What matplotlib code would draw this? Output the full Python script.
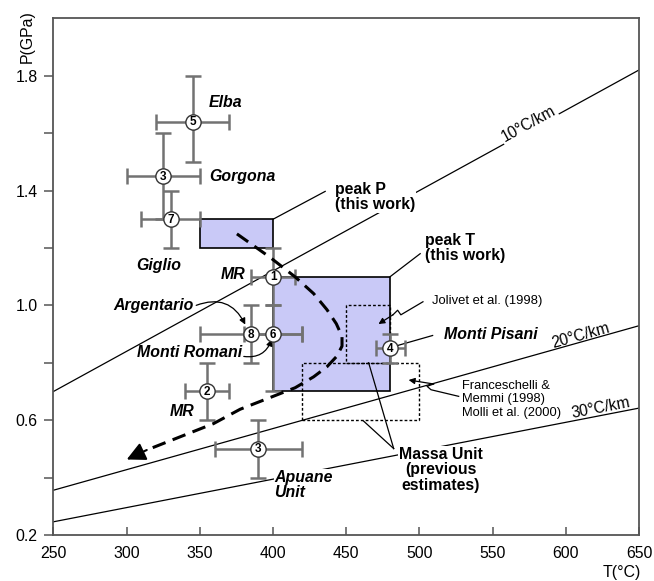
import numpy as np
import matplotlib.pyplot as plt

plt.rcParams['font.family'] = ['Liberation Sans', 'DejaVu Sans']

# geotherms (end points at T = 250 and 650 C)
geo_T = [250, 650]
geo10 = [0.70, 1.82]
geo20 = [0.356, 0.929]
geo30 = [0.246, 0.642]

# peak estimates of this work: (Tmin, Tmax, Pmin, Pmax)
peakP_box = (350, 400, 1.20, 1.30)
peakT_box = (400, 480, 0.70, 1.10)
# previous estimates for the Massa Unit
jolivet_box = (450, 480, 0.80, 1.00)
frances_box = (420, 500, 0.60, 0.80)

# literature P-T estimates with error ranges
pt_num = ['5', '3', '7', '1', '8', '6', '2', '3', '4']
pt_T = [345, 325, 330, 400, 385, 400, 355, 390, 480]
pt_P = [1.64, 1.45, 1.30, 1.10, 0.90, 0.90, 0.70, 0.50, 0.85]
pt_Tlo = [320, 300, 310, 385, 350, 380, 340, 360, 470]
pt_Thi = [370, 350, 350, 415, 420, 420, 370, 420, 490]
pt_Plo = [1.50, 1.30, 1.20, 1.00, 0.80, 0.70, 0.60, 0.40, 0.80]
pt_Phi = [1.80, 1.60, 1.40, 1.20, 1.00, 1.00, 0.80, 0.60, 0.90]

# P-T path (dashed)
path_T = [375.3, 398.0, 415.1, 427.7, 436.8, 443.2, 447.1, 447.1, 443.6, 436.8,
          427.7, 415.1, 377.5, 359.3, 313.7]
path_P = [1.249, 1.167, 1.099, 1.041, 0.985, 0.936, 0.892, 0.858, 0.823, 0.786,
          0.751, 0.713, 0.638, 0.588, 0.496]
path_tip = (300, 0.463)

fig = plt.figure(figsize=(6.54, 5.81), dpi=100)
ax = fig.add_axes([0.0818, 0.0792, 0.8953, 0.8893])
ax.set_xlim(250, 650)
ax.set_ylim(0.2, 2.0)

spine_col = '#555555'
for s in ax.spines.values():
    s.set_color(spine_col)
    s.set_linewidth(1.3)

ax.set_xticks(np.arange(250, 651, 50))
ax.set_xticks([300, 400, 500, 600], minor=True)
ax.tick_params(axis='x', which='major', direction='in', length=6, width=1.1,
               color=spine_col, labelsize=11.4, pad=8)
ax.tick_params(axis='x', which='minor', direction='in', length=9, width=1.1,
               color=spine_col)
ax.set_yticks([0.2, 0.6, 1.0, 1.4, 1.8])
ax.set_yticks([0.4, 0.8, 1.2, 1.6], minor=True)
ax.yaxis.set_major_formatter(plt.FormatStrFormatter('%.1f'))
ax.tick_params(axis='y', which='both', direction='out', length=6.5, width=1.1,
               color=spine_col, labelsize=11.4, pad=5)

fig.text(27 / 654, 1 - 37 / 581, 'P(GPa)', rotation=90, ha='center', va='center',
         fontsize=11.4)
fig.text(622 / 654, 1 - 573 / 581, 'T(°C)', ha='center', va='center', fontsize=11.4)

# geotherms
for g in (geo10, geo20, geo30):
    ax.plot(geo_T, g, color='black', lw=0.9, zorder=1)


def screen_angle(x0, y0, x1, y1):
    p = ax.transData.transform([(x0, y0), (x1, y1)])
    return np.degrees(np.arctan2(p[1, 1] - p[0, 1], p[1, 0] - p[0, 0]))


ax.text(574.6, 1.632, '10°C/km', fontsize=11.2, ha='center', va='center',
        rotation=screen_angle(geo_T[0], geo10[0], geo_T[1], geo10[1]),
        rotation_mode='anchor',
        bbox=dict(facecolor='white', edgecolor='none', pad=1.0))
ax.text(610, 0.896, '20°C/km', fontsize=11.2, ha='center', va='center',
        rotation=screen_angle(geo_T[0], geo20[0], geo_T[1], geo20[1]),
        rotation_mode='anchor')
ax.text(623.6, 0.642, '30°C/km', fontsize=11.2, ha='center', va='center',
        rotation=screen_angle(geo_T[0], geo30[0], geo_T[1], geo30[1]),
        rotation_mode='anchor')

# boxes
for (t0, t1, p0, p1) in (peakP_box, peakT_box):
    ax.add_patch(plt.Rectangle((t0, p0), t1 - t0, p1 - p0, facecolor='#c9c9f7',
                               edgecolor='black', lw=1.2, zorder=1.5))
for (t0, t1, p0, p1) in (jolivet_box, frances_box):
    ax.add_patch(plt.Rectangle((t0, p0), t1 - t0, p1 - p0, facecolor='none',
                               edgecolor='black', lw=1.0, ls=(0, (2, 1.5)), zorder=2.5))

# error bars, then numbered circles on top
err_col = '#727272'
for i in range(len(pt_num)):
    ax.errorbar(pt_T[i], pt_P[i],
                xerr=[[pt_T[i] - pt_Tlo[i]], [pt_Thi[i] - pt_T[i]]],
                yerr=[[pt_P[i] - pt_Plo[i]], [pt_Phi[i] - pt_P[i]]],
                fmt='none', ecolor=err_col, elinewidth=1.8, capsize=5.5,
                capthick=1.8, zorder=3)
for i in range(len(pt_num)):
    ax.plot(pt_T[i], pt_P[i], 'o', ms=11, mfc='white', mec='#333333', mew=1.0,
            zorder=4)
    ax.text(pt_T[i], pt_P[i] - 0.002, pt_num[i], fontsize=8.5, fontweight='bold',
            ha='center', va='center', zorder=5)

# P-T path
ax.plot(path_T, path_P, color='black', lw=2.2, ls=(0, (4.5, 2.5)), zorder=3.5)
ax.annotate('', xy=path_tip, xytext=(path_T[-1], path_P[-1]),
            arrowprops=dict(arrowstyle='-|>', color='black', lw=1.5,
                            mutation_scale=28, shrinkA=0, shrinkB=0),
            zorder=3.5)

# locality labels
loc_kw = dict(fontsize=11.4, fontweight='bold', fontstyle='italic', va='center')
ax.text(356, 1.705, 'Elba', ha='left', **loc_kw)
ax.text(356.5, 1.45, 'Gorgona', ha='left', **loc_kw)
ax.text(322, 1.14, 'Giglio', ha='center', **loc_kw)
ax.text(381, 1.107, 'MR', ha='right', **loc_kw)
ax.text(346, 0.63, 'MR', ha='right', **loc_kw)
ax.text(345.5, 1.0, 'Argentario', ha='right', **loc_kw)
ax.text(379, 0.837, 'Monti Romani', ha='right', **loc_kw)
ax.text(401, 0.374, 'Apuane\nUnit', ha='left', linespacing=1.0,
        bbox=dict(facecolor='white', edgecolor='none', pad=0.5), **loc_kw)
ax.text(516.5, 0.9, 'Monti Pisani', ha='left', **loc_kw)

arrow_kw = dict(arrowstyle='-|>', color='black', lw=0.9, mutation_scale=9,
                shrinkA=0, shrinkB=0)
ax.annotate('', xy=(381, 0.933), xytext=(347.5, 1.0),
            arrowprops=dict(connectionstyle='arc3,rad=-0.45', **arrow_kw))
ax.annotate('', xy=(399, 0.881), xytext=(380, 0.822),
            arrowprops=dict(connectionstyle='arc3,rad=0.4', **arrow_kw))
ax.plot([509, 485], [0.895, 0.86], color='black', lw=0.9, zorder=2)

# this work
bold_kw = dict(fontsize=11.4, fontweight='bold', va='center', linespacing=1.05)
ax.text(442.5, 1.378, 'peak P\n(this work)', ha='left',
        bbox=dict(facecolor='white', edgecolor='none', pad=0.5), **bold_kw)
ax.plot([400, 435.6], [1.30, 1.397], color='black', lw=0.9, zorder=2)
ax.text(504, 1.2, 'peak T\n(this work)', ha='left', **bold_kw)
ax.plot([480, 500.5], [1.10, 1.18], color='black', lw=0.9, zorder=2)

# previous estimates
ax.text(514.4, 0.427, 'Massa Unit\n(previous\nestimates)', ha='center',
        bbox=dict(facecolor='white', edgecolor='none', pad=0.5), **bold_kw)
ax.plot([482.4, 465.3], [0.501, 0.80], color='black', lw=0.9, zorder=2)
ax.plot([482.4, 461.8], [0.501, 0.597], color='black', lw=0.9, zorder=2)

ax.text(508.6, 1.014, 'Jolivet et al. (1998)', fontsize=9.4, ha='left', va='center')
jol_T = [502.4, 487.3, 485.1, 481.9]
jol_P = [1.0125, 0.967, 0.983, 0.967]
ax.plot(jol_T, jol_P, color='black', lw=0.9, zorder=2.6)
ax.annotate('', xy=(472, 0.935), xytext=(jol_T[-1], jol_P[-1]),
            arrowprops=arrow_kw, zorder=2.6)

ax.text(529, 0.672, 'Franceschelli &\nMemmi (1998)\nMolli et al. (2000)',
        fontsize=9.3, ha='left', va='center', linespacing=1.15)
fr_T = [526.8, 507.9, 505.2, 509.7]
fr_P = [0.683, 0.706, 0.718, 0.726]
ax.plot(fr_T, fr_P, color='black', lw=0.9, zorder=2.6)
ax.annotate('', xy=(492.6, 0.740), xytext=(fr_T[-1], fr_P[-1]),
            arrowprops=arrow_kw, zorder=2.6)

fig.savefig('out.png', dpi=100)
